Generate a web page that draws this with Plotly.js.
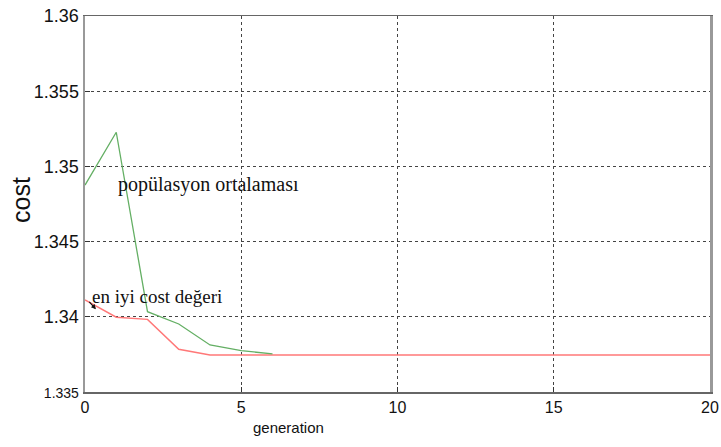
<!DOCTYPE html>
<html>
<head>
<meta charset="utf-8">
<script src="https://cdn.plot.ly/plotly-3.0.1.min.js"></script>
<style>html,body{margin:0;padding:0;background:#fff;}#chart{width:721px;height:447px;}</style>
</head>
<body>
<div id="chart"></div>
<script>
var generationsMean = [0, 1, 2, 3, 4, 5, 6];
var populationMean = [1.34876, 1.35227, 1.34034, 1.33952, 1.33813, 1.33775, 1.33753];
var generationsBest = [0, 1, 2, 3, 4, 5, 6, 7, 8, 9, 10, 11, 12, 13, 14, 15, 16, 17, 18, 19, 20];
var bestCost = [1.34112, 1.33997, 1.33983, 1.33784, 1.33746, 1.33746, 1.33746, 1.33746, 1.33746, 1.33746, 1.33746, 1.33746, 1.33746, 1.33746, 1.33746, 1.33746, 1.33746, 1.33746, 1.33746, 1.33746, 1.33746];
var xTickVals = [0, 5, 10, 15, 20];
var xTickText = ['0', '5', '10', '15', '20'];
var yTickVals = [1.335, 1.34, 1.345, 1.35, 1.355, 1.36];
var yTickText = ['<span style="font-size:14px">1.335</span>', '1.34', '1.345', '1.35', '1.355', '1.36'];
var labelMean = 'popülasyon ortalaması';
var labelBest = 'en iyi cost değeri';
var xTitle = 'generation';
var yTitle = 'cost';

var sans = 'Liberation Sans, Arial, sans-serif';
var serif = 'Liberation Serif, Times New Roman, serif';

var traces = [
  {x: generationsBest, y: bestCost, type: 'scatter', mode: 'lines', line: {color: 'rgb(255,120,120)', width: 1.5}, hoverinfo: 'skip'},
  {x: generationsMean, y: populationMean, type: 'scatter', mode: 'lines', line: {color: 'rgb(100,175,100)', width: 1.3}, hoverinfo: 'skip'}
];

var layout = {
  width: 721, height: 447,
  margin: {l: 85, r: 11, t: 16, b: 55},
  paper_bgcolor: '#fff', plot_bgcolor: '#fff',
  showlegend: false,
  xaxis: {
    range: [0, 20], tickvals: xTickVals, ticktext: xTickText,
    showgrid: true, gridcolor: '#444', griddash: 'dot', gridwidth: 1,
    zeroline: false, showline: true, mirror: true, linecolor: '#666', linewidth: 1.5,
    ticks: 'inside', ticklen: 5, tickcolor: '#333',
    tickfont: {family: sans, size: 16, color: '#111'}
  },
  yaxis: {
    range: [1.335, 1.36], tickvals: yTickVals, ticktext: yTickText,
    showgrid: true, gridcolor: '#444', griddash: 'dot', gridwidth: 1,
    zeroline: false, showline: true, mirror: true, linecolor: '#999', linewidth: 2.5,
    ticks: 'inside', ticklen: 5, tickcolor: '#333',
    tickfont: {family: sans, size: 18, color: '#111'}
  },
  annotations: [
    {text: labelMean, xref: 'x', yref: 'y', x: 1.0, y: 1.3488, xanchor: 'left', yanchor: 'middle', showarrow: false, font: {family: serif, size: 20, color: '#111'}},
    {text: labelBest, xref: 'x', yref: 'y', x: 0.15, y: 1.34135, xanchor: 'left', yanchor: 'middle', showarrow: false, font: {family: serif, size: 19, color: '#111'}},
    {text: '', xref: 'x', yref: 'y', x: 0.35, y: 1.3405, showarrow: true, arrowhead: 2, arrowsize: 0.8, arrowwidth: 1.2, arrowcolor: '#111', ax: -8, ay: -9},
    {text: xTitle, xref: 'paper', yref: 'paper', x: (288 - 85) / 625, y: -35 / 376, xanchor: 'center', yanchor: 'middle', showarrow: false, font: {family: sans, size: 15, color: '#111'}},
    {text: yTitle, xref: 'paper', yref: 'paper', x: (21 - 85) / 625, y: (392 - 200) / 376, xanchor: 'center', yanchor: 'middle', textangle: -90, showarrow: false, font: {family: sans, size: 25, color: '#111'}}
  ]
};

Plotly.newPlot('chart', traces, layout, {staticPlot: true, displayModeBar: false});
</script>
</body>
</html>
